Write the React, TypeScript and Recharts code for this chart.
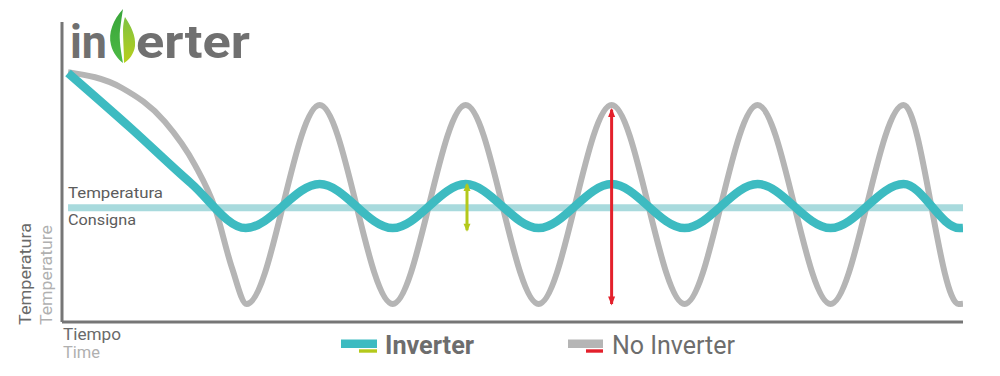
import React from 'react';
import { LineChart, Line, XAxis, YAxis } from 'recharts';

// Time (0..100) and temperature (0..100) readings
const noInverterTime = [0.67, 6.66, 11.43, 14.76, 16.98, 18.87, 20.5, 28.6, 36.7, 44.8, 52.9, 61.0, 69.1, 77.2, 85.3, 93.4, 99.5, 100];
const noInverterTemp = [83.3, 78, 66.7, 52.3, 38, 18, 6, 72.3, 6, 72.3, 6, 72.3, 6, 72.3, 6, 72.3, 6, 6.1];
const inverterTime = [0.67, 7.6, 14.3, 20.4, 28.6, 36.7, 44.8, 52.9, 61.0, 69.1, 77.2, 85.3, 93.4, 99.6, 100];
const inverterTemp = [83, 64.7, 46.3, 31.3, 46, 31.3, 46, 31.3, 46, 31.3, 46, 31.3, 46, 31.3, 31.35];
const setpointTime = [0.67, 100];
const setpointTemp = [38.1, 38.1];
const inverterRangeTime = [44.95, 44.95];
const inverterRangeTemp = [30.6, 45.8];
const noInverterRangeTime = [61.0, 61.0];
const noInverterRangeTemp = [6.0, 70.8];

const zip = (ts: number[], vs: number[]) => ts.map((t, i) => ({ t, v: vs[i] }));

const noInverterData = zip(noInverterTime, noInverterTemp);
const inverterData = zip(inverterTime, inverterTemp);
const setpointData = zip(setpointTime, setpointTemp);
const inverterRange = zip(inverterRangeTime, inverterRangeTemp);
const noInverterRange = zip(noInverterRangeTime, noInverterRangeTemp);

const TEAL = '#3dbbc1';
const GRAY = '#b5b5b5';
const SETPOINT = '#a8dadd';
const GREEN = '#b4c91b';
const RED = '#e3202b';
const AXIS = '#767676';
const TEXT = '#6a6a6a';
const LIGHT = '#b0b0b0';

const arrowDot = (color: string, len: number, half: number) => (props: any) => {
  const { cx, cy, index } = props;
  if (cx == null || cy == null) return <g key={`a-${index}`} />;
  const dir = index === 0 ? 1 : -1;
  const tip = cy + dir * 1.5;
  const base = tip - dir * len;
  return (
    <path
      key={`a-${index}`}
      d={`M${cx},${tip} L${cx - half},${base} L${cx + half},${base} Z`}
      fill={color}
      stroke="none"
    />
  );
};

const FONT = 'Roboto, "DejaVu Sans", sans-serif';

export default function App() {
  return (
    <div style={{ position: 'absolute', left: 0, top: 0, width: 1000, height: 376, background: '#fff' }}>
      <LineChart width={1000} height={376} margin={{ top: 22, right: 37, bottom: 53, left: 61 }}>
        <XAxis
          type="number"
          dataKey="t"
          domain={[0, 100]}
          allowDataOverflow
          height={1}
          tick={false}
          tickLine={false}
          axisLine={{ stroke: AXIS, strokeWidth: 3 }}
        />
        <YAxis
          type="number"
          dataKey="v"
          domain={[0, 100]}
          allowDataOverflow
          width={1}
          tick={false}
          tickLine={false}
          axisLine={{ stroke: AXIS, strokeWidth: 3 }}
        />
        <Line data={setpointData} dataKey="v" type="linear" stroke={SETPOINT} strokeWidth={7} dot={false} activeDot={false} isAnimationActive={false} />
        <Line data={noInverterData} dataKey="v" type="monotone" stroke={GRAY} strokeWidth={6} dot={false} activeDot={false} isAnimationActive={false} />
        <Line data={inverterData} dataKey="v" type="monotone" stroke={TEAL} strokeWidth={8.5} dot={false} activeDot={false} isAnimationActive={false} />
        <Line data={inverterRange} dataKey="v" type="linear" stroke={GREEN} strokeWidth={3} dot={arrowDot(GREEN, 8, 3.5)} activeDot={false} isAnimationActive={false} />
        <Line data={noInverterRange} dataKey="v" type="linear" stroke={RED} strokeWidth={3} dot={arrowDot(RED, 9, 3.5)} activeDot={false} isAnimationActive={false} />
      </LineChart>

      <svg width={1000} height={376} style={{ position: 'absolute', left: 0, top: 0, pointerEvents: 'none' }}>
        {/* Logo */}
        <text x={70} y={58} fontFamily={FONT} fontWeight={700} fontSize={46} fill="#707070" textLength={37} lengthAdjust="spacingAndGlyphs">in</text>
        <defs>
          <linearGradient id="leafL" x1="0" y1="0" x2="0" y2="1">
            <stop offset="0" stopColor="#38a539" />
            <stop offset="1" stopColor="#4db945" />
          </linearGradient>
          <linearGradient id="leafR" x1="0" y1="0" x2="0" y2="1">
            <stop offset="0" stopColor="#7fc241" />
            <stop offset="1" stopColor="#b8cf1c" />
          </linearGradient>
        </defs>
        <path d="M123,9 C113,20 108,33 111,45 C113,53 118,59 123,63 C121,52 119,40 120,30 C121,22 122,15 123,9 Z" fill="url(#leafL)" />
        <path d="M125,17 C131,26 136,36 135,46 C134,54 129,60 124,63 C124,52 123,40 123,30 C123,25 124,20 125,17 Z" fill="url(#leafR)" />
        <text x={136} y={58} fontFamily={FONT} fontWeight={700} fontSize={46} fill="#707070" textLength={114} lengthAdjust="spacingAndGlyphs">erter</text>

        {/* Setpoint labels */}
        <text x={68} y={198} fontFamily={FONT} fontSize={15.5} fill="#5c5c5c" textLength={95} lengthAdjust="spacingAndGlyphs">Temperatura</text>
        <text x={68} y={225} fontFamily={FONT} fontSize={15.5} fill="#5c5c5c" textLength={68} lengthAdjust="spacingAndGlyphs">Consigna</text>

        {/* Axis titles */}
        <text transform="translate(31,325) rotate(-90)" fontFamily={FONT} fontSize={17} fill={TEXT} textLength={102} lengthAdjust="spacingAndGlyphs">Temperatura</text>
        <text transform="translate(52,325) rotate(-90)" fontFamily={FONT} fontSize={17} fill={LIGHT} textLength={100} lengthAdjust="spacingAndGlyphs">Temperature</text>
        <text x={63} y={340} fontFamily={FONT} fontSize={17} fill={TEXT} textLength={58} lengthAdjust="spacingAndGlyphs">Tiempo</text>
        <text x={63} y={358} fontFamily={FONT} fontSize={17} fill={LIGHT} textLength={37} lengthAdjust="spacingAndGlyphs">Time</text>

        {/* Legend */}
        <line x1={341} x2={377} y1={343.8} y2={343.8} stroke={TEAL} strokeWidth={8.5} />
        <line x1={359} x2={377} y1={351} y2={351} stroke={GREEN} strokeWidth={3.4} />
        <text x={385} y={354} fontFamily={FONT} fontWeight={700} fontSize={26} fill="#6d6d6d" textLength={89} lengthAdjust="spacingAndGlyphs">Inverter</text>
        <line x1={568} x2={603} y1={343.8} y2={343.8} stroke={GRAY} strokeWidth={8.5} />
        <line x1={586} x2={603} y1={351} y2={351} stroke={RED} strokeWidth={3.4} />
        <text x={612} y={354} fontFamily={FONT} fontSize={26} fill="#6d6d6d" textLength={123} lengthAdjust="spacingAndGlyphs">No Inverter</text>
      </svg>
    </div>
  );
}
